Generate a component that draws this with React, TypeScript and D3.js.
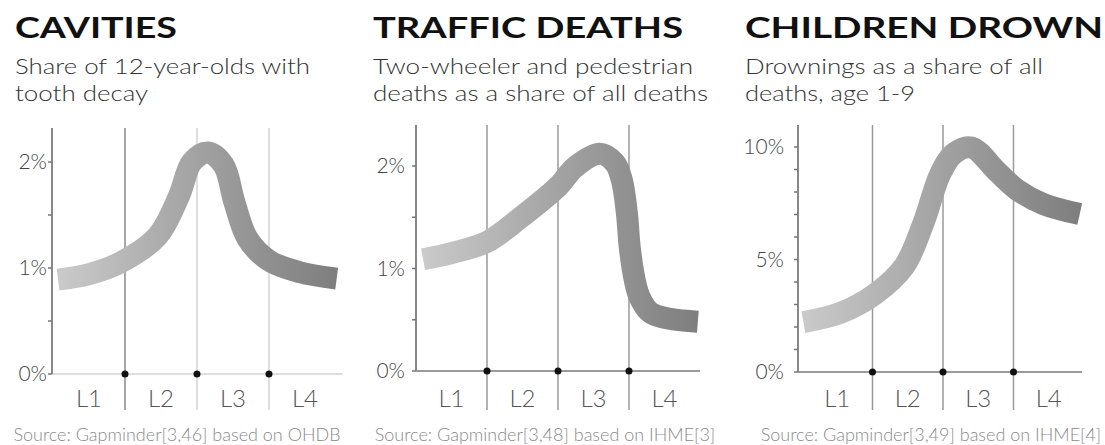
import React from "react";
import * as d3 from "d3";

const levels = ["L1", "L2", "L3", "L4"];

const cavitiesX = [0.07, 0.49, 0.93, 1.45, 1.75, 1.93, 2.15, 2.37, 2.52, 2.7, 3.0, 3.43, 3.94];
const cavitiesY = [0.89, 0.94, 1.05, 1.3, 1.68, 2.0, 2.09, 1.97, 1.62, 1.28, 1.07, 0.96, 0.9];
const cavitiesTicks = [0, 0.5, 1, 1.5, 2];
const cavitiesLabels = [0, 1, 2];

const trafficX = [0.1, 0.5, 1.0, 1.46, 2.0, 2.24, 2.59, 2.8, 2.9, 2.97, 3.01, 3.08, 3.15, 3.3, 3.5, 3.97];
const trafficY = [1.09, 1.15, 1.26, 1.49, 1.8, 1.99, 2.12, 2.03, 1.86, 1.54, 1.21, 0.89, 0.72, 0.57, 0.52, 0.48];
const trafficTicks = [0, 0.5, 1, 1.5, 2];
const trafficLabels = [0, 1, 2];

const drownX = [0.02, 0.54, 1.03, 1.45, 1.72, 1.96, 2.15, 2.4, 2.77, 3.05, 3.42, 3.94];
const drownY = [2.22, 2.62, 3.45, 4.7, 6.6, 8.8, 9.7, 9.98, 8.9, 8.1, 7.47, 7.02];
const drownTicks = [0, 1, 2, 3, 4, 5, 6, 7, 8, 9, 10];
const drownLabels = [0, 5, 10];

interface Panel {
  id: string;
  title: string;
  titleWidth: number;
  sub: string[];
  subWidths: number[];
  source: string;
  xs: number[];
  ys: number[];
  ticks: number[];
  labels: number[];
  yMax: number;
  titleX: number;
  axisX: number;
  labelGap: number;
  xRange: [number, number];
  yRange: [number, number];
  axisTop: number;
  axisEnd: number;
  sourceX: number;
  dividerColors: string[];
  baseColor: string;
}

const panels: Panel[] = [
  {
    id: "cav",
    title: "CAVITIES",
    titleWidth: 162,
    sub: ["Share of 12-year-olds with", "tooth decay"],
    subWidths: [295, 133],
    source: "Source: Gapminder[3,46] based on OHDB",
    xs: cavitiesX,
    ys: cavitiesY,
    ticks: cavitiesTicks,
    labels: cavitiesLabels,
    yMax: 2,
    titleX: 15,
    axisX: 52,
    labelGap: 5,
    xRange: [53, 341],
    yRange: [374, 162],
    axisTop: 128,
    axisEnd: 343,
    sourceX: 177,
    dividerColors: ["#8a8a8a", "#d4d4d4", "#d4d4d4"],
    baseColor: "#dedede",
  },
  {
    id: "traf",
    title: "TRAFFIC DEATHS",
    titleWidth: 310,
    sub: ["Two-wheeler and pedestrian", "deaths as a share of all deaths"],
    subWidths: [320, 335],
    source: "Source: Gapminder[3,48] based on IHME[3]",
    xs: trafficX,
    ys: trafficY,
    ticks: trafficTicks,
    labels: trafficLabels,
    yMax: 2,
    titleX: 373,
    axisX: 416,
    labelGap: 11,
    xRange: [416, 700],
    yRange: [371, 166],
    axisTop: 125,
    axisEnd: 700,
    sourceX: 545,
    dividerColors: ["#9a9a9a", "#9a9a9a", "#9a9a9a"],
    baseColor: "#9a9a9a",
  },
  {
    id: "drown",
    title: "CHILDREN DROWN",
    titleWidth: 358,
    sub: ["Drownings as a share of all", "deaths, age 1-9"],
    subWidths: [298, 170],
    source: "Source: Gapminder[3,49] based on IHME[4]",
    xs: drownX,
    ys: drownY,
    ticks: drownTicks,
    labels: drownLabels,
    yMax: 10,
    titleX: 745,
    axisX: 798,
    labelGap: 14,
    xRange: [802, 1084],
    yRange: [372, 147],
    axisTop: 125,
    axisEnd: 1082,
    sourceX: 931,
    dividerColors: ["#9a9a9a", "#9a9a9a", "#9a9a9a"],
    baseColor: "#9a9a9a",
  },
];

const FONT = "Lato, 'Open Sans', sans-serif";

function ChartPanel({ p }: { p: Panel }) {
  const x = d3.scaleLinear().domain([0, 4]).range(p.xRange);
  const y = d3.scaleLinear().domain([0, p.yMax]).range(p.yRange);
  const pts = p.xs.map((v, i) => [v, p.ys[i]] as [number, number]);
  const line = d3
    .line<[number, number]>()
    .x((d) => x(d[0]))
    .y((d) => y(d[1]))
    .curve(d3.curveCatmullRom.alpha(0.5));
  const base = y(0);
  const x0 = x(p.xs[0]);
  const x1 = x(p.xs[p.xs.length - 1]);

  return (
    <g>
      <defs>
        <linearGradient id={`g-${p.id}`} gradientUnits="userSpaceOnUse" x1={x0} y1={0} x2={x1} y2={0}>
          <stop offset="0%" stopColor="#cacaca" />
          <stop offset="50%" stopColor="#a2a2a2" />
          <stop offset="100%" stopColor="#7e7e7e" />
        </linearGradient>
      </defs>
      <text
        x={p.titleX}
        y={38}
        fontFamily={FONT}
        fontWeight={700}
        fontSize={28}
        fill="#111"
        textLength={p.titleWidth}
        lengthAdjust="spacingAndGlyphs"
      >
        {p.title}
      </text>
      {p.sub.map((s, i) => (
        <text
          key={i}
          x={p.titleX}
          y={74 + i * 26.5}
          fontFamily={FONT}
          fontWeight={300}
          fontSize={22}
          fill="#333"
          textLength={p.subWidths[i]}
          lengthAdjust="spacingAndGlyphs"
        >
          {s}
        </text>
      ))}
      {[1, 2, 3].map((d, i) => (
        <line key={d} x1={x(d)} x2={x(d)} y1={p.axisTop} y2={410} stroke={p.dividerColors[i]} strokeWidth={1.5} />
      ))}
      <line x1={p.axisX} x2={p.axisEnd} y1={base} y2={base} stroke={p.baseColor} strokeWidth={2} />
      <line x1={p.axisX} x2={p.axisX} y1={p.axisTop} y2={base} stroke="#888" strokeWidth={2} />
      {p.ticks.map((t) => (
        <line key={t} x1={p.axisX - 4} x2={p.axisX} y1={y(t)} y2={y(t)} stroke="#777" strokeWidth={1.5} />
      ))}
      {p.labels.map((t) => (
        <text
          key={t}
          x={p.axisX - p.labelGap}
          y={y(t)}
          dy="0.35em"
          textAnchor="end"
          fontFamily={FONT}
          fontWeight={300}
          fontSize={21}
          fill="#444"
        >
          {`${t}%`}
        </text>
      ))}
      <path d={line(pts) ?? ""} fill="none" stroke={`url(#g-${p.id})`} strokeWidth={22} strokeLinecap="butt" />
      {[1, 2, 3].map((d) => (
        <circle key={d} cx={x(d)} cy={base} r={3.5} fill="#111" />
      ))}
      {levels.map((l, i) => (
        <text
          key={l}
          x={x(i + 0.5)}
          y={407}
          textAnchor="middle"
          fontFamily={FONT}
          fontWeight={300}
          fontSize={24}
          fill="#555"
        >
          {l}
        </text>
      ))}
      <text x={p.sourceX} y={441} textAnchor="middle" fontFamily={FONT} fontWeight={300} fontSize={18} fill="#8a8a8a">
        {p.source}
      </text>
    </g>
  );
}

export default function App() {
  return (
    <svg width={1105} height={445} style={{ position: "absolute", left: 0, top: 0, background: "#fff" }}>
      <rect width={1105} height={445} fill="#fff" />
      {panels.map((p) => (
        <ChartPanel key={p.id} p={p} />
      ))}
    </svg>
  );
}
